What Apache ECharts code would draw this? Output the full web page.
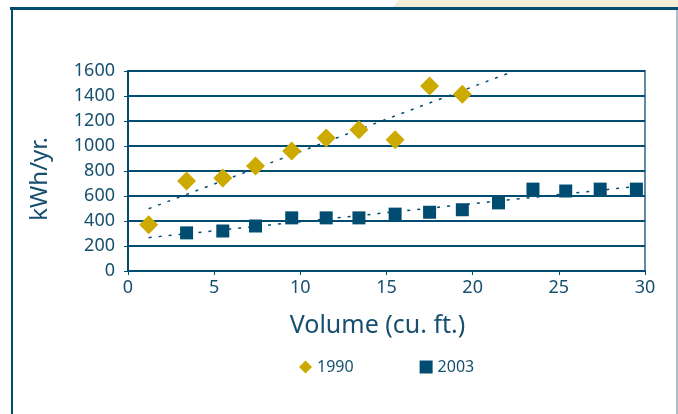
<!DOCTYPE html>
<html>
<head>
<meta charset="utf-8">
<script src="https://cdn.jsdelivr.net/npm/echarts@6/dist/echarts.min.js"></script>
<style>
  html, body { margin: 0; padding: 0; background: #fff; }
  #main { width: 678px; height: 414px; }
</style>
</head>
<body>
<div id="main"></div>
<script>
// 1990 models
const x1990 = [1.2, 3.4, 5.5, 7.4, 9.5, 11.5, 13.4, 15.5, 17.5, 19.4];
const y1990 = [370, 720, 745, 840, 960, 1065, 1130, 1050, 1480, 1415];
// 2003 models
const x2003 = [3.4, 5.5, 7.4, 9.5, 11.5, 13.4, 15.5, 17.5, 19.4, 21.5, 23.5, 25.4, 27.4, 29.5];
const y2003 = [305, 320, 360, 425, 425, 425, 455, 470, 490, 545, 655, 640, 655, 655];
const xTicks = [0, 5, 10, 15, 20, 25, 30];
const yTicks = [0, 200, 400, 600, 800, 1000, 1200, 1400, 1600];

const navy = '#004D71';
const gold = '#CCAA00';
const textColor = '#17506F';

// least squares fit, used for the dotted trend lines
function fit(xs, ys) {
    const n = xs.length;
    const mx = xs.reduce((a, b) => a + b, 0) / n;
    const my = ys.reduce((a, b) => a + b, 0) / n;
    let sxy = 0, sxx = 0;
    for (let i = 0; i < n; i++) {
        sxy += (xs[i] - mx) * (ys[i] - my);
        sxx += (xs[i] - mx) * (xs[i] - mx);
    }
    const k = sxy / sxx;
    return x => my + k * (x - mx);
}
const trendFrom = x1990[0];
const trendTo = xTicks[xTicks.length - 1];
const f1990 = fit(x1990, y1990);
const f2003 = fit(x2003, y2003);

const pairs = (xs, ys) => xs.map((x, i) => [x, ys[i]]);

const myChart = echarts.init(document.getElementById('main'), null, { renderer: 'canvas' });
const option = {
    animation: false,
    backgroundColor: '#fff',
    textStyle: { fontFamily: 'Noto Sans' },
    graphic: [
        { type: 'polygon', shape: { points: [[393, 7], [399, 0], [678, 0], [678, 7]] }, style: { fill: '#F5ECD6' }, silent: true },
        { type: 'rect', shape: { x: 10, y: 7, width: 668, height: 3 }, style: { fill: navy }, silent: true },
        { type: 'rect', shape: { x: 11, y: 8, width: 2, height: 406 }, style: { fill: navy }, silent: true },
        { type: 'rect', shape: { x: 676, y: 10, width: 2, height: 404 }, style: { fill: '#A9BFCC' }, silent: true }
    ],
    grid: {
        left: 128, top: 71, right: 33, bottom: 143,
        show: true, borderColor: '#5F8AA3', borderWidth: 2
    },
    legend: {
        left: 294, top: 354,
        itemWidth: 13, itemHeight: 13, itemGap: 66,
        textStyle: { color: textColor, fontSize: 16, fontFamily: 'Noto Sans' },
        data: [{ name: '1990', icon: 'diamond' }, { name: '2003', icon: 'rect' }]
    },
    xAxis: {
        type: 'value', min: 0, max: 30, interval: 5,
        name: 'Volume (cu. ft.)', nameLocation: 'middle', nameGap: 42,
        nameTextStyle: { color: textColor, fontSize: 25, padding: [0, 18, 0, 0] },
        axisLine: { show: true, lineStyle: { color: navy, width: 2 } },
        axisTick: { show: true, inside: false, length: 4, lineStyle: { color: navy, width: 1 } },
        axisLabel: { color: textColor, fontSize: 18, margin: 8 },
        splitLine: { show: false }
    },
    yAxis: {
        type: 'value', min: 0, max: 1600, interval: 200,
        name: 'kWh/yr.', nameLocation: 'middle', nameGap: 76,
        nameTextStyle: { color: textColor, fontSize: 24, padding: [0, 16, 0, 0] },
        axisLine: { show: true, lineStyle: { color: navy, width: 2 } },
        axisTick: { show: true, inside: false, length: 4, lineStyle: { color: navy, width: 1 } },
        axisLabel: { color: textColor, fontSize: 18, margin: 13, formatter: v => String(v) },
        splitLine: { show: true, lineStyle: { color: navy, width: 2 } }
    },
    series: [
        {
            name: 'trend 1990', type: 'line', clip: true, showSymbol: false, silent: true,
            data: [[trendFrom, f1990(trendFrom)], [trendTo, f1990(trendTo)]],
            lineStyle: { color: navy, width: 1.5, type: [3, 7] }, z: 1
        },
        {
            name: 'trend 2003', type: 'line', clip: true, showSymbol: false, silent: true,
            data: [[trendFrom, f2003(trendFrom)], [trendTo, f2003(trendTo)]],
            lineStyle: { color: navy, width: 1.5, type: [3, 7] }, z: 1
        },
        {
            name: '1990', type: 'scatter', symbol: 'diamond', symbolSize: 19,
            itemStyle: { color: gold, opacity: 1 },
            data: pairs(x1990, y1990), z: 3
        },
        {
            name: '2003', type: 'scatter', symbol: 'rect', symbolSize: 13,
            itemStyle: { color: navy, opacity: 1 },
            data: pairs(x2003, y2003), z: 3
        }
    ]
};
myChart.setOption(option);
window.addEventListener('resize', () => { myChart.resize(); });
</script>
</body>
</html>
